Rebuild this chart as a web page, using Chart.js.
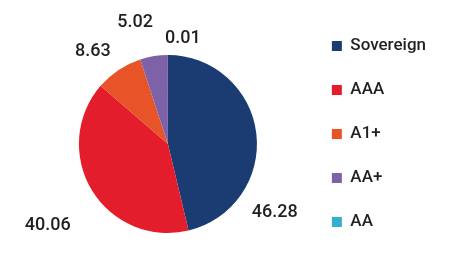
<!DOCTYPE html>
<html>
<head>
<meta charset="utf-8">
<script src="https://cdn.jsdelivr.net/npm/chart.js@4.4.1/dist/chart.umd.min.js"></script>
<style>
  html, body { margin: 0; padding: 0; background: #fff; }
  #wrap { width: 451px; height: 268px; }
</style>
</head>
<body>
<div id="wrap"><canvas id="ratingchart" width="451" height="268"></canvas></div>
<script>
// rating mix (%)
var ratings = ["Sovereign", "AAA", "A1+", "AA+", "AA"];
var shares = [46.28, 40.06, 8.63, 5.02, 0.01];
var sliceColors = ["#1a3c72", "#e31d2b", "#e75428", "#7d62a8", "#33b0cf"];

// value labels outside the pie, placed from each arc's own angles
var outsideLabels = {
	id: 'outsideLabels',
	afterDatasetsDraw: function(chart, args, opts) {
		var ctx = chart.ctx;
		var meta = chart.getDatasetMeta(0);
		ctx.save();
		ctx.font = opts.font;
		ctx.fillStyle = opts.color;
		ctx.textAlign = 'center';
		ctx.textBaseline = 'middle';
		meta.data.forEach(function(arc, i) {
			var p = arc.getProps(['x', 'y', 'startAngle', 'endAngle', 'outerRadius'], true);
			var a = (p.startAngle + p.endAngle) / 2 + (opts.shift[i] || 0) * Math.PI / 180;
			var d = p.outerRadius + (opts.gap[i] || 0);
			ctx.fillText(shares[i].toFixed(2), p.x + Math.cos(a) * d, p.y + Math.sin(a) * d);
		});
		ctx.restore();
	}
};

var piechart = {
	type: 'pie',
	data: {
		labels: ratings,
		datasets: [
			{
				data: shares,
				backgroundColor: sliceColors,
				hoverBackgroundColor: sliceColors,
				borderWidth: 0,
				radius: 89
			}
		]
	},
	options: {
		responsive: false,
		animation: false,
		layout: {
			padding: { left: 31, right: 15, top: 0, bottom: 0 }
		},
		plugins: {
			title: {
				display: true,
				text: ' ',
				fullSize: false,
				font: { size: 10, lineHeight: 1 },
				padding: { top: 10, bottom: 0 }
			},
			legend: {
				position: 'right',
				align: 'center',
				labels: {
					boxWidth: 10,
					boxHeight: 10,
					padding: 27,
					color: '#231f20',
					font: { family: 'Roboto', size: 17, weight: '500' }
				}
			},
			tooltip: { enabled: false },
			outsideLabels: {
				font: '500 18px Roboto',
				color: '#231f20',
				shift: [39.5, -2.7, -5.5, -6, 8],
				gap: [38, 56, 30, 37, 18]
			}
		}
	},
	plugins: [outsideLabels]
};

window.onload = function() {
	var pie = document.getElementById("ratingchart").getContext("2d");
	window.mypie = new Chart(pie, piechart);
};
</script>
</body>
</html>
